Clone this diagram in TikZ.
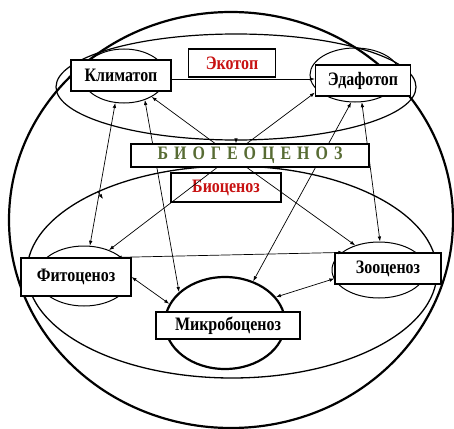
\documentclass[tikz,border=0pt]{standalone}
\usepackage{fontspec}
\setmainfont{Liberation Serif}[FakeStretch=0.84]
\usetikzlibrary{arrows.meta,shapes.geometric}
\definecolor{ekored}{RGB}{200,18,18}
\definecolor{biogreen}{RGB}{88,108,52}
\pgfdeclarelayer{front}
\pgfsetlayers{main,front}

\begin{document}
\begin{tikzpicture}[
  x=1pt,y=-1pt,
  zone/.style={draw=black, ellipse, inner sep=0pt, line width=1pt},
  box/.style={draw=black, fill=white, line width=1.2pt, inner sep=0pt, font=\fontsize{19}{22}\selectfont\bfseries},
  edge/.style={-{Latex[length=5pt,width=3.6pt]}, draw=black, line width=0.7pt},
  both/.style={{Latex[length=5pt,width=3.6pt]}-{Latex[length=5pt,width=3.6pt]}, draw=black, line width=0.7pt}
]
  \useasboundingbox (0,0) rectangle (454,428);

  % containers
  \draw[line width=2.2pt] (231,220) ellipse [x radius=222, y radius=208];
  \node[zone, line width=1.2pt, minimum width=360pt, minimum height=106pt] (ekotE) at (236,87) {};
  \node[zone, line width=1.3pt, minimum width=410pt, minimum height=212pt] (biocE) at (232,272) {};

  % small ellipses behind the boxes
  \node[zone, minimum width=84pt, minimum height=54pt] (klimE) at (124,76) {};
  \node[zone, minimum width=90pt, minimum height=54pt] (edaE) at (355,75) {};
  \node[zone, minimum width=94pt, minimum height=60pt] (fitoE) at (84,276) {};
  \node[zone, minimum width=94pt, minimum height=56pt] (zooE) at (379,270) {};
  \node[zone, line width=2.2pt, minimum width=120pt, minimum height=92pt] (mikroE) at (225,323) {};

  % boxes
  \node[box, minimum width=100pt, minimum height=31pt] (klim) at (121,75.5) {Климатоп};
  \node[box, text=ekored, minimum width=87pt, minimum height=28pt] (ekot) at (232,63) {Экотоп};
  \node[box, minimum width=95pt, minimum height=31pt] (eda) at (363,80.5) {Эдафотоп};
  \node[box, text=ekored, minimum width=110pt, minimum height=29pt] (bioc) at (226,187.5) {Биоценоз};
  \node[box, minimum width=110pt, minimum height=38pt] (fito) at (76,277) {Фитоценоз};
  \node[box, minimum width=106pt, minimum height=31pt] (zoo) at (388,268.5) {Зооценоз};
  \node[box, minimum width=144pt, minimum height=27pt] (mikro) at (228,325.5) {Микробоценоз};
  \begin{pgfonlayer}{front}
    \node[box, text=biogreen, minimum width=238pt, minimum height=23pt] (biog) at (250,155.5)
      {\spaceskip=6pt\relax Б И О Г Е О Ц Е Н О З};
  \end{pgfonlayer}

  % links
  \draw[edge] ([yshift=-3.5pt]klim.east) -- ([yshift=1.5pt]eda.west);
  \draw[edge] ([xshift=-35pt]biog.north) -- (klimE.-37);
  \draw[edge] ([xshift=-3pt]biog.north) -- ([yshift=4pt]eda.south west);
  \draw[edge] (ekotE.south) -- (ekotE.south |- biog.north);
  \draw[edge] ([xshift=-33pt]biog.south) -- (fitoE.46);
  \draw[edge] ([xshift=-3pt]biog.south) -- (zooE.134);
  \draw[both] (klimE.-108) -- (fitoE.79);
  \draw[both] (klimE.-49) -- (mikroE.146);
  \draw[both] (edaE.-98) -- (mikroE.56);
  \draw[both] (edaE.-76) -- (zooE.88);
  \draw[both] ([xshift=-15pt]fito.north east) -- ([xshift=9pt]zoo.north west);
  \draw[both] (fito.east) -- (mikroE.161);
  \draw[both] ([yshift=6pt]zoo.south west) -- (mikroE.27);
  \coordinate (tick) at (103,199);
  \draw[edge] (biocE.149) -- (tick);
\end{tikzpicture}
\end{document}
